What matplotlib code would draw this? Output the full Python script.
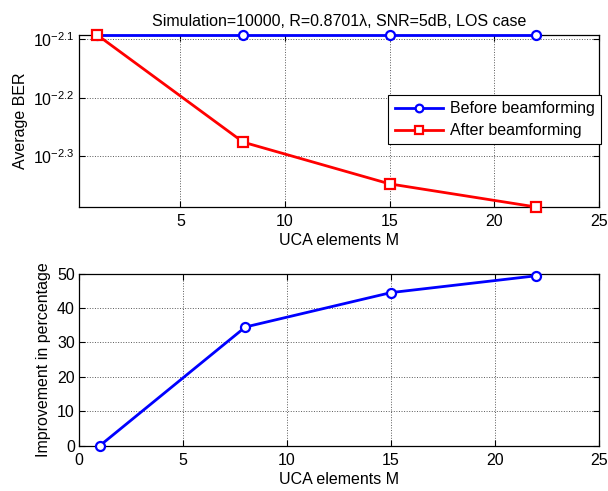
import numpy as np
import matplotlib
matplotlib.use('Agg')
import matplotlib.pyplot as plt
from matplotlib.ticker import FixedLocator, FixedFormatter, NullLocator

plt.rcParams['font.family'] = ['Liberation Sans', 'DejaVu Sans']
plt.rcParams['font.size'] = 11.5
plt.rcParams['mathtext.fontset'] = 'custom'
plt.rcParams['mathtext.rm'] = 'Liberation Sans'
plt.rcParams['mathtext.it'] = 'Liberation Sans'

# number of UCA elements
M = [1, 8, 15, 22]
# average BER before / after beamforming
ber_before = [0.00808, 0.00808, 0.00808, 0.00808]
ber_after = [0.00808, 0.00530, 0.00450, 0.00411]
# improvement in percent
improvement = [0, 34.5, 44.5, 49.4]

ber_ticks = [10**-2.3, 10**-2.2, 10**-2.1]
ber_ticklabels = [r'$10^{-2.3}$', r'$10^{-2.2}$', r'$10^{-2.1}$']


def style_axes(ax):
    ax.tick_params(direction='in', top=True, right=True, length=4, width=0.8,
                   labelsize=11.5)
    ax.tick_params(axis='x', pad=5)
    ax.tick_params(axis='y', pad=3)
    ax.grid(True, linestyle=':', color='0.35', linewidth=0.7)
    for s in ax.spines.values():
        s.set_linewidth(0.9)


fig = plt.figure(figsize=(6.08, 4.91), dpi=100)

ax1 = fig.add_axes([0.130, 0.5784, 0.855, 0.351])
ax1.set_yscale('log')
ax1.plot(M, ber_before, '-o', color='blue', lw=2, ms=6.5, mew=1.6,
         mfc='white', label='Before beamforming', clip_on=False, zorder=4)
ax1.plot(M, ber_after, '-s', color='red', lw=2, ms=6.5, mew=1.6,
         mfc='white', label='After beamforming', clip_on=False, zorder=5)
ax1.set_xlim(0.15, 25)
ax1.set_ylim(min(ber_after), max(ber_before))
ax1.xaxis.set_major_locator(FixedLocator([5, 10, 15, 20, 25]))
ax1.yaxis.set_major_locator(FixedLocator(ber_ticks))
ax1.yaxis.set_major_formatter(FixedFormatter(ber_ticklabels))
ax1.yaxis.set_minor_locator(NullLocator())
style_axes(ax1)
ax1.set_xlabel('UCA elements M', labelpad=3)
ax1.set_ylabel('Average BER', labelpad=4)
ax1.set_title('Simulation=10000, R=0.8701λ, SNR=5dB, LOS case', fontsize=11.5, pad=6)
leg = ax1.legend(loc='upper right', bbox_to_anchor=(601 / 608, 1 - 95 / 491),
                 bbox_transform=fig.transFigure, fancybox=False,
                 edgecolor='black', framealpha=1, handlelength=3.0,
                 borderpad=0.4, labelspacing=0.42, handletextpad=0.45,
                 borderaxespad=0, markerscale=0.85)
leg.get_frame().set_linewidth(0.8)

ax2 = fig.add_axes([0.130, 0.0923, 0.855, 0.3503])
ax2.plot(M, improvement, '-o', color='blue', lw=2, ms=6.5, mew=1.6,
         mfc='white', clip_on=False, zorder=4)
ax2.set_xlim(0, 25)
ax2.set_ylim(0, 50)
ax2.xaxis.set_major_locator(FixedLocator([0, 5, 10, 15, 20, 25]))
ax2.yaxis.set_major_locator(FixedLocator([0, 10, 20, 30, 40, 50]))
style_axes(ax2)
ax2.set_xlabel('UCA elements M', labelpad=3)
ax2.set_ylabel('Improvement in percentage', labelpad=4)

fig.savefig('out.png', dpi=100)
